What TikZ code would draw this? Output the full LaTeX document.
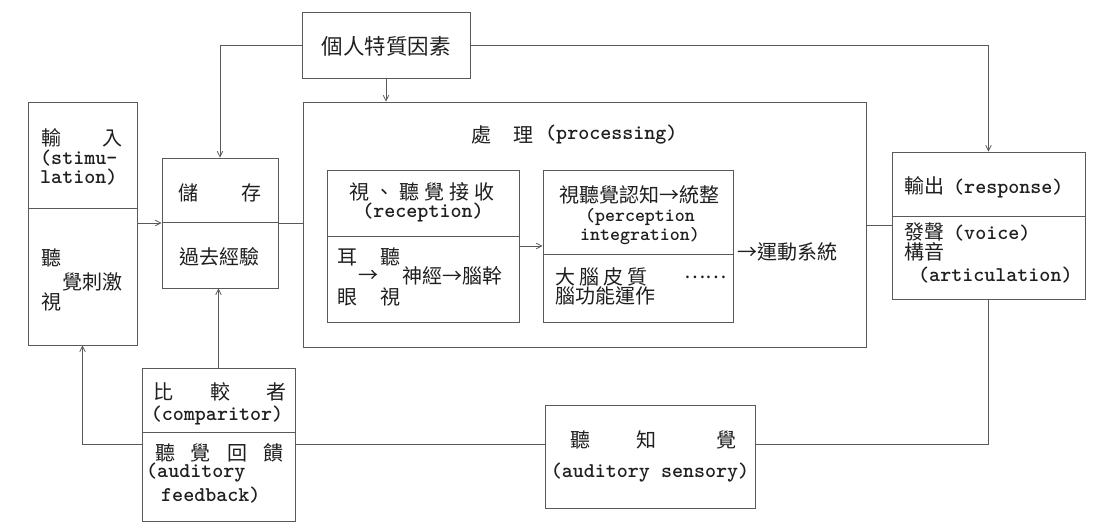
\documentclass[tikz,border=0pt]{standalone}
\usepackage{fontspec}
\newfontfamily\cjkf{Noto Sans CJK TC}
\newfontfamily\latf{lmmonolt10-bold.otf}
\usetikzlibrary{arrows.meta,fit,calc}
\definecolor{ln}{gray}{0.35}
\definecolor{tc}{gray}{0.12}
\newcommand{\C}[1]{{\fontsize{20}{24}\selectfont\cjkf #1}}
\newcommand{\CL}[1]{{\fontsize{21.5}{26}\selectfont\cjkf #1}}
\begin{document}
\begin{tikzpicture}[x=1pt,y=-1pt,
  box/.style={draw=ln, line width=0.8pt, inner sep=0pt},
  arr/.style={-{Straight Barb[length=5.5pt,width=5.5pt]}, draw=ln, line width=0.8pt},
  con/.style={draw=ln, line width=0.8pt},
  tx/.style={inner sep=0pt, text=tc, font=\fontsize{21}{24}\selectfont\latf},
  txs/.style={tx, font=\fontsize{19}{22}\selectfont\latf},
]
\useasboundingbox[fill=white] (0,0) rectangle (1097,524);

% boxes
\node[box, fit={(28,102) (137,345)}] (inp) {};
\node[box, fit={(162,158) (278,288)}] (sto) {};
\node[box, fit={(302,12) (470,78)}] (per) {};
\node[box, fit={(303,102) (866,347)}] (proc) {};
\node[box, fit={(327,170) (519,322)}] (rec) {};
\node[box, fit={(543,170) (733,322)}] (perc) {};
\node[box, fit={(892,152) (1085,299)}] (out) {};
\node[box, fit={(142,368) (295,521)}] (cmp) {};
\node[box, fit={(545,405) (755,508)}] (aud) {};

% dividers
\draw[con] (inp.west |- 0,208) -- (inp.east |- 0,208);
\draw[con] (sto.west |- 0,222) -- (sto.east |- 0,222);
\draw[con] (rec.west |- 0,236) -- (rec.east |- 0,236);
\draw[con] (perc.west |- 0,254) -- (perc.east |- 0,254);
\draw[con] (out.west |- 0,216) -- (out.east |- 0,216);
\draw[con] (cmp.west |- 0,432) -- (cmp.east |- 0,432);

% connectors
\coordinate (fy) at (0,444);
\draw[arr] (per.west) -| (sto.north);
\draw[arr] (per.east) -| (out.north);
\draw[arr] (per.south) -- (per.south |- proc.north);
\draw[arr] (inp.east |- sto.west) -- (sto.west);
\draw[con] (sto.east) -- (sto.east -| proc.west);
\draw[arr] (rec.east) -- (perc.west);
\draw[con] (out.west -| proc.east) -- (out.west);
\draw[con] (out.south) |- (aud.east |- fy);
\draw[con] (aud.west |- fy) -- (cmp.east |- fy);
\draw[arr] (cmp.west |- fy) -| (inp.south);
\draw[arr] (cmp.north) -- (cmp.north |- sto.south);

% input
\node[tx] (i1) at (51,138) {\C{輸}};
\node[tx] (i2) at (112,138) {\C{入}};
\node[tx,anchor=west] (i3) at (40,158) {(stimu-};
\node[tx,anchor=west] (i4) at (40,177) {lation)};
\node[tx] (i5) at (51,258) {\C{聽}};
\node[tx,anchor=west] (i6) at (62,282) {\C{覺刺激}};
\node[tx] (i7) at (51,302) {\C{視}};

% storage
\node[tx] (s1) at (188,193) {\C{儲}};
\node[tx] (s2) at (251,193) {\C{存}};
\node[tx] (s3) at (219,257) {\C{過去經驗}};

% personal factors
\node[tx] (p1) at (386,46) {\CL{個人特質因素}};

% processing title
\node[tx] (h1) at (481,135) {\C{處}};
\node[tx] (h2) at (523,135) {\C{理}};
\node[tx,anchor=west] (h3) at (545,135) {(processing)};

% reception
\node[tx] (r1) at (422,192) {\C{視\hspace{5pt}、\hspace{5pt}聽\hspace{5pt}覺\hspace{5pt}接\hspace{5pt}收}};
\node[tx] (r2) at (423,213) {(reception)};
\node[tx] (r3) at (347,257) {\C{耳}};
\node[tx] (r4) at (390,257) {\C{聽}};
\node[tx] (r5) at (368,276) {\C{→}};
\node[tx,anchor=west] (r6) at (402,276) {\C{神經→腦幹}};
\node[tx] (r7) at (347,297) {\C{眼}};
\node[tx] (r8) at (390,297) {\C{視}};

% perception
\node[tx] (q1) at (639,195) {\C{視聽覺認知→統整}};
\node[txs] (q2) at (640,217) {(perception};
\node[txs] (q3) at (640,236) {integration)};
\node[tx,anchor=west] (q4) at (555,277) {\C{大\hspace{4pt}腦\hspace{4pt}皮\hspace{4pt}質}};
\node[tx,anchor=west] (q5) at (684,277) {\C{……}};
\node[tx,anchor=west] (q6) at (555,296) {\C{腦功能運作}};

\node[tx,anchor=west] (m1) at (737,252) {\C{→運動系統}};

% output
\node[tx,anchor=west] (o1) at (904,187) {\C{輸出}\hspace{9pt}(response)};
\node[tx,anchor=west] (o2) at (904,232) {\C{發聲}\hspace{9pt}(voice)};
\node[tx,anchor=west] (o3) at (904,252) {\C{構音}};
\node[tx,anchor=west] (o4) at (918,275) {(articulation)};

% comparator
\node[tx] (c1) at (163,392) {\C{比}};
\node[tx] (c2) at (220,392) {\C{較}};
\node[tx] (c3) at (276,392) {\C{者}};
\node[tx] (c4) at (217,415) {(comparitor)};
\node[tx] (c5) at (165,453) {\C{聽}};
\node[tx] (c6) at (200,453) {\C{覺}};
\node[tx] (c7) at (237,453) {\C{回}};
\node[tx] (c8) at (273,453) {\C{饋}};
\node[tx,anchor=west] (c9) at (146,473) {(auditory};
\node[tx,anchor=west] (c10) at (161,495) {feedback)};

% auditory sensory
\node[tx] (a1) at (580,440) {\C{聽}};
\node[tx] (a2) at (646,440) {\C{知}};
\node[tx] (a3) at (726,440) {\C{覺}};
\node[tx] (a4) at (650,473) {(auditory sensory)};
\end{tikzpicture}
\end{document}
